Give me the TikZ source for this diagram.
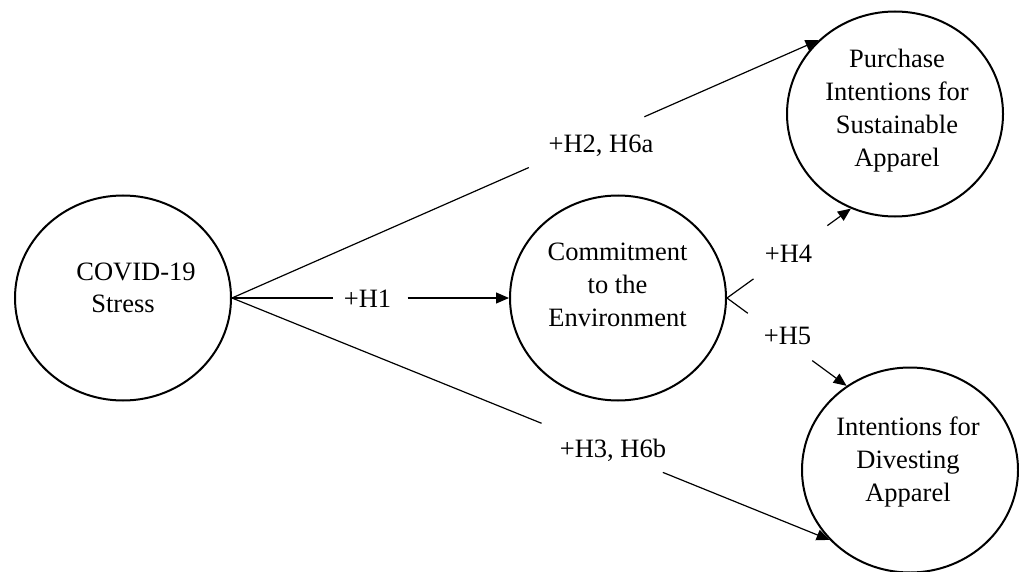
\documentclass[tikz,border=0pt]{standalone}
\usepackage{fontspec}
\setmainfont{Liberation Serif}
\usetikzlibrary{shapes.geometric,arrows.meta,calc}
\begin{document}
\begin{tikzpicture}[x=1pt,y=-1pt,
  construct/.style={ellipse,draw,line width=2pt,minimum width=216pt,minimum height=205pt,inner sep=0pt},
  txt/.style={anchor=base,inner sep=0pt,font=\fontsize{26.5}{33}\selectfont},
  conn/.style={line width=1.2pt},
  arr/.style={conn,-{Triangle[length=13pt,width=11pt]}}]
\fill[white] (0,0) rectangle (1019,572);
\useasboundingbox (0,0) rectangle (1019,572);

% constructs
\node[construct] (covid) at (123,298) {};
\node[construct] (commit) at (618,298) {};
\node[construct] (purch) at (895,114) {};
\node[construct] (divest) at (910,470) {};

% texts
\node[txt] (tcovid1) at (136,280) {COVID-19};
\node[txt] (tcovid2) at (123,312) {Stress};
\node[txt] (tcommit) at (617.5,260) {\begin{tabular}[t]{@{}c@{}}Commitment\\to the\\Environment\end{tabular}};
\node[txt] (tpurch) at (897,68) {\begin{tabular}[t]{@{}c@{}}Purchase\\Intentions for\\Sustainable\\Apparel\end{tabular}};
\node[txt] (tdivest) at (908,435) {\begin{tabular}[t]{@{}c@{}}Intentions for\\Divesting\\Apparel\end{tabular}};

% labels
\node[txt] (l1) at (367.5,307) {+H1};
\node[txt] (l2) at (601,153) {+H2, H6a};
\node[txt] (l3) at (613,457) {+H3, H6b};
\node[txt] (l4) at (788.5,262) {+H4};
\node[txt] (l5) at (787.5,344) {+H5};

% gap coordinates
\coordinate (h1a) at ($(covid.east)!0.366!(commit.west)$);
\coordinate (h1b) at ($(covid.east)!0.634!(commit.west)$);
\coordinate (h2a) at ($(covid.east)!0.506!(purch.136.5)$);
\coordinate (h2b) at ($(covid.east)!0.703!(purch.136.5)$);
\coordinate (h3a) at ($(covid.east)!0.518!(divest.221.7)$);
\coordinate (h3b) at ($(covid.east)!0.721!(divest.221.7)$);
\coordinate (h4a) at ($(commit.east)!0.214!(purch.245.4)$);
\coordinate (h4b) at ($(commit.east)!0.81!(purch.245.4)$);
\coordinate (h5a) at ($(commit.east)!0.174!(divest.127.4)$);
\coordinate (h5b) at ($(commit.east)!0.713!(divest.127.4)$);

% connectors
\draw[conn] (covid.east) -- (h1a);
\draw[arr] (h1b) -- (commit.west);
\draw[conn] (covid.east) -- (h2a);
\draw[arr] (h2b) -- (purch.136.5);
\draw[conn] (covid.east) -- (h3a);
\draw[arr] (h3b) -- (divest.221.7);
\draw[conn] (commit.east) -- (h4a);
\draw[arr] (h4b) -- (purch.245.4);
\draw[conn] (commit.east) -- (h5a);
\draw[arr] (h5b) -- (divest.127.4);
\end{tikzpicture}
\end{document}
